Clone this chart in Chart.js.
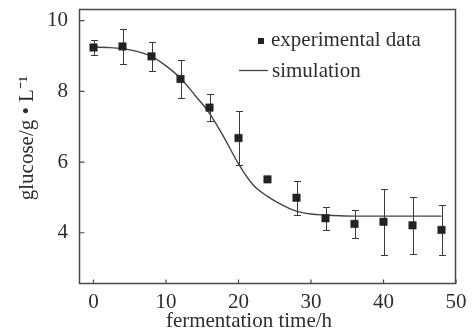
<!DOCTYPE html>
<html>
<head>
<meta charset="utf-8">
<script src="https://cdn.jsdelivr.net/npm/chart.js@4.4.0/dist/chart.umd.min.js"></script>
<style>
    html, body { margin: 0; padding: 0; background: #fff; }
    #wrap { width: 472px; height: 335px; }
</style>
</head>
<body>
<div id="wrap"><canvas id="chart" width="472" height="335"></canvas></div>
<script>
// glucose during fermentation: measured points (with error bars) and model curve
const expTime = [0, 4, 8, 12, 16, 20, 24, 28, 32, 36, 40, 44, 48];
const expGlucose = [9.24, 9.27, 8.99, 8.35, 7.54, 6.68, 5.51, 4.99, 4.41, 4.25, 4.31, 4.21, 4.08];
const expError = [0.20, 0.50, 0.41, 0.54, 0.39, 0.76, 0, 0.48, 0.32, 0.40, 0.93, 0.81, 0.71];

const simTime = [0, 2, 4, 6, 8, 10, 12, 14, 16, 18, 20, 22, 24, 26, 28, 30, 32, 34, 36, 38, 40, 42, 44, 46, 48];
const simGlucose = [9.25, 9.24, 9.21, 9.13, 8.99, 8.72, 8.37, 7.89, 7.38, 6.70, 5.95, 5.36, 5.03, 4.79, 4.61, 4.53, 4.50, 4.48, 4.47, 4.47, 4.47, 4.47, 4.47, 4.47, 4.47];

const xTicks = [0, 10, 20, 30, 40, 50];
const yTicks = [4, 6, 8, 10];

const FONT = "'Liberation Serif', 'Times New Roman', serif";
const INK = '#2e2e2e';
const AXIS = '#4a4a4a';

// error bars, frame, inward ticks, axis titles and legend
const decorations = {
    id: 'decorations',
    beforeDatasetsDraw(chart) {
        const ctx = chart.ctx;
        const xs = chart.scales.x, ys = chart.scales.y;
        ctx.save();
        ctx.strokeStyle = '#3a3a3a';
        ctx.lineWidth = 1;
        expTime.forEach((t, i) => {
            const e = expError[i];
            if (!e) return;
            const px = Math.round(xs.getPixelForValue(t)) + 0.5;
            const top = Math.round(ys.getPixelForValue(expGlucose[i] + e)) + 0.5;
            const bot = Math.round(ys.getPixelForValue(expGlucose[i] - e)) + 0.5;
            ctx.beginPath();
            ctx.moveTo(px, top); ctx.lineTo(px, bot);
            ctx.moveTo(px - 3.5, top); ctx.lineTo(px + 3.5, top);
            ctx.moveTo(px - 3.5, bot); ctx.lineTo(px + 3.5, bot);
            ctx.stroke();
        });
        ctx.restore();
    },
    afterDraw(chart) {
        const ctx = chart.ctx;
        const area = chart.chartArea;
        const xs = chart.scales.x, ys = chart.scales.y;
        ctx.save();

        // frame
        const l = Math.round(area.left) + 0.5, r = Math.round(area.right) - 0.5;
        const t = Math.round(area.top) + 0.5, b = Math.round(area.bottom) - 0.5;
        ctx.strokeStyle = AXIS;
        ctx.lineWidth = 1.5;
        ctx.beginPath();
        ctx.moveTo(l, t); ctx.lineTo(r, t); ctx.lineTo(r, b); ctx.lineTo(l, b); ctx.closePath();
        ctx.stroke();

        // inward ticks
        ctx.lineWidth = 1.2;
        ctx.beginPath();
        xTicks.forEach(v => {
            const px = xs.getPixelForValue(v);
            ctx.moveTo(px, b);
            ctx.lineTo(px, b - 4);
        });
        yTicks.forEach(v => {
            const py = ys.getPixelForValue(v);
            ctx.moveTo(l, py);
            ctx.lineTo(l + 5, py);
        });
        ctx.stroke();

        // axis titles
        ctx.fillStyle = INK;
        ctx.font = '21px ' + FONT;
        ctx.textAlign = 'center';
        ctx.textBaseline = 'middle';
        ctx.fillText('fermentation time/h', 249, 321);
        ctx.save();
        ctx.translate(27, 138);
        ctx.rotate(-Math.PI / 2);
        ctx.fillText('glucose/g \u2022 L\u207B\u00B9', 0, 0);
        ctx.restore();

        // legend
        ctx.textAlign = 'left';
        ctx.textBaseline = 'alphabetic';
        ctx.fillStyle = '#222';
        ctx.fillRect(258, 38, 6, 6);
        ctx.fillStyle = INK;
        ctx.fillText(chart.data.datasets[0].label, 271, 46);
        ctx.strokeStyle = '#444';
        ctx.lineWidth = 1.3;
        ctx.beginPath();
        ctx.moveTo(239, 70.5);
        ctx.lineTo(268, 70.5);
        ctx.stroke();
        ctx.fillText(chart.data.datasets[1].label, 272, 77);

        ctx.restore();
    }
};

const ctx = document.getElementById('chart');

new Chart(ctx, {
    type: 'scatter',
    data: {
        datasets: [
            {
                label: 'experimental data',
                data: expTime.map((t, i) => ({ x: t, y: expGlucose[i] })),
                pointStyle: 'rect',
                pointRadius: 5.3,
                backgroundColor: '#222',
                borderColor: '#222',
                borderWidth: 0.5,
                order: 0
            },
            {
                label: 'simulation',
                type: 'line',
                data: simTime.map((t, i) => ({ x: t, y: simGlucose[i] })),
                borderColor: '#444',
                borderWidth: 1.4,
                pointRadius: 0,
                fill: false,
                cubicInterpolationMode: 'monotone',
                order: 1
            }
        ]
    },
    options: {
        responsive: false,
        animation: false,
        layout: { padding: { left: 0, top: 9, right: 16, bottom: 0 } },
        plugins: {
            legend: { display: false },
            tooltip: { enabled: false }
        },
        scales: {
            x: {
                type: 'linear',
                min: -2,
                max: 50,
                grid: { display: false },
                border: { display: false },
                afterBuildTicks: scale => { scale.ticks = xTicks.map(v => ({ value: v })); },
                afterFit: scale => {
                    scale.height = 51;
                    scale.paddingLeft = 0;
                    scale.paddingRight = 0;
                },
                ticks: {
                    color: INK,
                    padding: -2,
                    font: { family: FONT, size: 21 }
                }
            },
            y: {
                type: 'linear',
                min: 2.55,
                max: 10.33,
                grid: { display: false },
                border: { display: false },
                afterBuildTicks: scale => { scale.ticks = yTicks.map(v => ({ value: v })); },
                afterFit: scale => {
                    scale.width = 79;
                    scale.paddingTop = 0;
                    scale.paddingBottom = 0;
                },
                ticks: {
                    color: INK,
                    padding: 3,
                    font: { family: FONT, size: 21 }
                }
            }
        }
    },
    plugins: [decorations]
});
</script>
</body>
</html>
